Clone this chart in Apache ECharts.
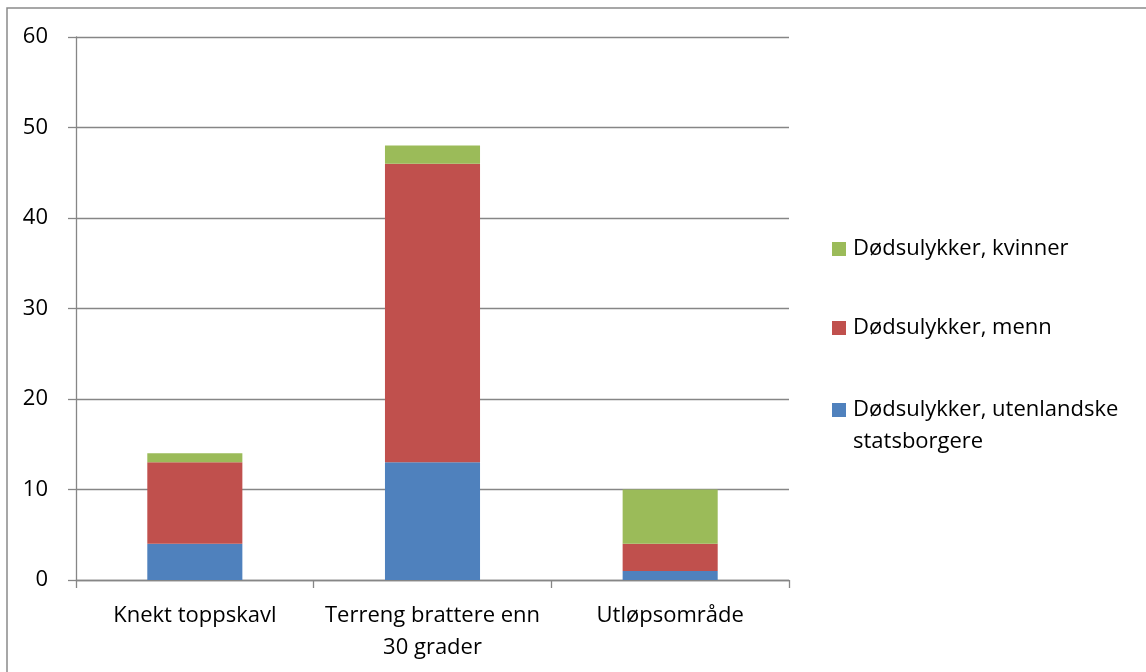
<!DOCTYPE html>
<html>
<head>
<meta charset="utf-8">
<script src="https://cdn.jsdelivr.net/npm/echarts@6/dist/echarts.min.js"></script>
<style>
  html, body { margin: 0; padding: 0; background: #fff; }
  #chart { width: 1146px; height: 672px; }
</style>
</head>
<body>
<div id="chart"></div>
<script>
var categories = ['Knekt toppskavl', 'Terreng brattere enn\n30 grader', 'Utløpsområde']
var foreignValues = [4, 13, 1]
var menValues = [9, 33, 3]
var womenValues = [1, 2, 6]
var yTicks = [0, 10, 20, 30, 40, 50, 60]

var seriesNames = [
    'Dødsulykker, utenlandske statsborgere',
    'Dødsulykker, menn',
    'Dødsulykker, kvinner'
]
var font = '"Open Sans", Lato, sans-serif'
var fontSize = 22

// one legend per entry, so each can sit where the reference puts it
function legendFor(name, top) {
    return {
        orient: 'vertical',
        left: 832,
        top: top,
        padding: 0,
        itemWidth: 14,
        itemHeight: 14,
        icon: 'rect',
        data: [name],
        formatter: function (n) {
            // blank first line keeps the square level with the first text line
            return n.indexOf('utenlandske ') >= 0 ? ' \n' + n.replace('utenlandske ', 'utenlandske\n') : n
        },
        textStyle: {
            fontSize: fontSize, color: '#000', fontFamily: font,
            lineHeight: 32, padding: [0, 0, 0, 2]
        }
    }
}

var chart = echarts.init(document.getElementById('chart'))
chart.setOption({
    animation: false,
    color: ['#4F81BD', '#C0504D', '#9BBB59'],
    textStyle: { fontFamily: font },
    grid: { left: 76, right: 357, top: 37, bottom: 92, containLabel: false },
    graphic: [{
        type: 'polyline',
        shape: { points: [[7, 680], [7, 8], [1150, 8]] },
        style: { stroke: '#8a8a8a', lineWidth: 1.5, fill: null }
    }],
    legend: [
        legendFor(seriesNames[2], 233),
        legendFor(seriesNames[1], 312),
        legendFor(seriesNames[0], 362)
    ],
    xAxis: {
        type: 'category',
        data: categories,
        axisLine: { lineStyle: { color: '#868686', width: 1.3 } },
        axisTick: { show: true, length: 8, alignWithLabel: false, lineStyle: { color: '#868686', width: 1.3 } },
        axisLabel: {
            color: '#000', fontSize: fontSize, margin: 20, lineHeight: 32, fontFamily: font,
            interval: 0, hideOverlap: false
        }
    },
    yAxis: {
        type: 'value',
        min: yTicks[0],
        max: yTicks[yTicks.length - 1],
        interval: 10,
        axisLine: { show: true, lineStyle: { color: '#868686', width: 1.3 } },
        axisTick: { show: true, length: 8, lineStyle: { color: '#868686', width: 1.3 } },
        axisLabel: { color: '#000', fontSize: fontSize, margin: 28, fontFamily: font },
        splitLine: { lineStyle: { color: '#868686', width: 1.3 } }
    },
    series: [
        { name: seriesNames[0], type: 'bar', stack: 'total', data: foreignValues, barWidth: '40%' },
        { name: seriesNames[1], type: 'bar', stack: 'total', data: menValues, barWidth: '40%' },
        { name: seriesNames[2], type: 'bar', stack: 'total', data: womenValues, barWidth: '40%' }
    ]
})
</script>
</body>
</html>
